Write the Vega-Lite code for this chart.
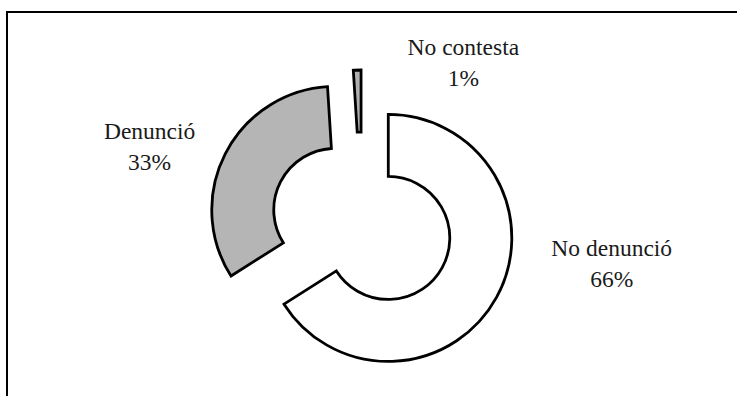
{
  "$schema": "https://vega.github.io/schema/vega-lite/v6.json",
  "width": 740,
  "height": 423,
  "autosize": {"type": "none"},
  "padding": {"left": 7, "top": 12, "right": 0, "bottom": 0},
  "background": "white",
  "view": {"stroke": "#000000", "strokeWidth": 2, "fill": "white"},
  "config": {"view": {"stroke": "#000000", "strokeWidth": 2}},
  "data": {
    "values": [
      {"categoria": "No denunció", "porcentaje": 66},
      {"categoria": "Denunció", "porcentaje": 33},
      {"categoria": "No contesta", "porcentaje": 1}
    ]
  },
  "transform": [
    {"window": [{"op": "row_number", "as": "orden"}]},
    {"calculate": "datum.categoria + '\\n' + datum.porcentaje + '%'", "as": "etiqueta"}
  ],
  "encoding": {
    "theta": {"field": "porcentaje", "type": "quantitative", "stack": true},
    "order": {"field": "orden", "type": "quantitative"},
    "color": {
      "field": "categoria",
      "type": "nominal",
      "scale": {"domain": ["No denunció", "Denunció", "No contesta"], "range": ["#ffffff", "#b5b5b5", "#b0b0b0"]},
      "legend": null
    }
  },
  "layer": [
    {
      "mark": {
        "type": "arc",
        "outerRadius": 123.5,
        "innerRadius": 61.5,
        "stroke": "#000000",
        "strokeWidth": 2.8,
        "x": {"expr": "width/2 - 15"},
        "xOffset": {"expr": "30*sin(PI*(datum.porcentaje_start+datum.porcentaje_end)/100)"},
        "yOffset": {"expr": "-30*cos(PI*(datum.porcentaje_start+datum.porcentaje_end)/100)"}
      }
    },
    {
      "mark": {
        "type": "text",
        "radius": 180,
        "x": {"expr": "width/2 - 15"},
        "font": "Liberation Serif",
        "fontSize": 23.5,
        "lineHeight": 31,
        "lineBreak": "\n",
        "align": "center",
        "baseline": "middle",
        "dx": {"expr": "datum.categoria == 'No denunció' ? 92 : datum.categoria == 'Denunció' ? -52 : 107"},
        "dy": {"expr": "datum.categoria == 'No denunció' ? -61 : datum.categoria == 'Denunció' ? -10 : 4"}
      },
      "encoding": {
        "text": {"field": "etiqueta", "type": "nominal"},
        "color": {"value": "#1a1a1a"}
      }
    }
  ]
}
